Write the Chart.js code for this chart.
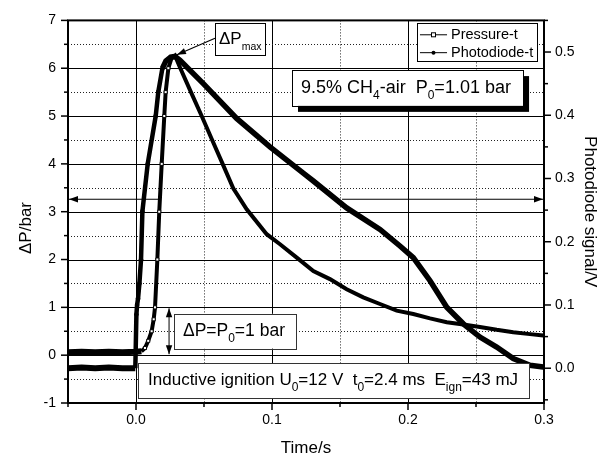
<!DOCTYPE html>
<html>
<head>
<meta charset="utf-8">
<script src="https://cdn.jsdelivr.net/npm/chart.js@4.4.1/dist/chart.umd.min.js"></script>
<style>
html,body{margin:0;padding:0;background:#fff;}
canvas{display:block;}
</style>
</head>
<body>
<canvas id="c" width="600" height="456"></canvas>
<script>
// ---- data ----
const seriesNames = ['Pressure-t', 'Photodiode-t'];
const axisTitles = { x: 'Time/s', y: '\u0394P/bar', y2: 'Photodiode signal/V' };

const pressureTime = [-0.05, -0.04, -0.03, -0.02, -0.01, 0.0, 0.004, 0.0066, 0.009, 0.0115,
  0.013, 0.014, 0.0157, 0.0171, 0.0189, 0.0208, 0.0218, 0.0238, 0.026, 0.0287,
  0.0326, 0.0404, 0.0483, 0.056, 0.0637, 0.0715, 0.0814, 0.0961, 0.1059, 0.1182,
  0.1304, 0.1426, 0.1549, 0.1671, 0.1794, 0.1917, 0.2039, 0.2162, 0.2285, 0.2407,
  0.2529, 0.2652, 0.2774, 0.2897, 0.2995];
const pressureBar = [0.06, 0.07, 0.06, 0.07, 0.06, 0.07, 0.08, 0.15, 0.3, 0.5,
  0.75, 1.0, 2.0, 3.0, 4.0, 5.0, 5.5, 6.0, 6.2, 6.26,
  6.0, 5.5, 5.0, 4.5, 4.0, 3.49, 3.05, 2.53, 2.32, 2.04,
  1.76, 1.59, 1.38, 1.21, 1.07, 0.93, 0.86, 0.77, 0.69, 0.64,
  0.59, 0.53, 0.48, 0.44, 0.41];

const photoTime = [-0.05, -0.04, -0.03, -0.02, -0.01, -0.0005, 0.0003, 0.0008, 0.0015, 0.0025,
  0.0037, 0.0047, 0.0086, 0.0145, 0.0164, 0.0194, 0.022, 0.0255, 0.0287, 0.0324,
  0.0495, 0.074, 0.0985, 0.123, 0.1304, 0.1549, 0.1794, 0.1941, 0.2039, 0.2162,
  0.2285, 0.2407, 0.2529, 0.2652, 0.2774, 0.2897, 0.2995];
const photoVolt = [0.0, 0.001, 0.0, 0.001, 0.0, 0.0, 0.085, 0.1, 0.11, 0.134,
  0.172, 0.248, 0.323, 0.399, 0.437, 0.474, 0.486, 0.492, 0.493, 0.487,
  0.45, 0.395, 0.35, 0.3085, 0.296, 0.2535, 0.2195, 0.1933, 0.1749, 0.1383,
  0.0963, 0.0702, 0.0492, 0.0335, 0.0152, 0.0047, 0.002];

// axis ranges
const timeRange = [-0.05, 0.3];
const pressureRange = [-1, 7];
const photoRange = [-0.055, 0.55];

// ---- drawing helpers ----
const FF = "'Liberation Sans', Arial, Helvetica, sans-serif";
Chart.defaults.font.family = FF;
Chart.defaults.color = '#000';

function isMult(v, step) { const r = v / step; return Math.abs(r - Math.round(r)) < 1e-6; }
function seg(ctx, x1, y1, x2, y2) { ctx.beginPath(); ctx.moveTo(x1, y1); ctx.lineTo(x2, y2); ctx.stroke(); }
function head(ctx, xf, yf, xt, yt, len, hw) {
  const a = Math.atan2(yt - yf, xt - xf);
  ctx.beginPath();
  ctx.moveTo(xt, yt);
  ctx.lineTo(xt - len * Math.cos(a) + hw * Math.sin(a), yt - len * Math.sin(a) - hw * Math.cos(a));
  ctx.lineTo(xt - len * Math.cos(a) - hw * Math.sin(a), yt - len * Math.sin(a) + hw * Math.cos(a));
  ctx.closePath();
  ctx.fill();
}
function arrow(ctx, x1, y1, x2, y2, both) {
  seg(ctx, x1, y1, x2, y2);
  head(ctx, x1, y1, x2, y2, 9, 3.2);
  if (both) head(ctx, x2, y2, x1, y1, 9, 3.2);
}
function rich(ctx, x, y, parts, size, subSize, subDy) {
  ctx.textBaseline = 'alphabetic';
  ctx.textAlign = 'left';
  for (const p of parts) {
    if (p.sub) { ctx.font = subSize + 'px ' + FF; ctx.fillText(p.s, x, y + subDy); }
    else { ctx.font = size + 'px ' + FF; ctx.fillText(p.s, x, y); }
    x += ctx.measureText(p.s).width;
  }
}
function box(ctx, l, t, r, b, stroke, shadow) {
  if (shadow) { ctx.fillStyle = '#000'; ctx.fillRect(l + shadow, t + shadow, r - l, b - t); }
  ctx.fillStyle = '#fff'; ctx.fillRect(l, t, r - l, b - t);
  ctx.strokeStyle = stroke; ctx.lineWidth = 1; ctx.setLineDash([]);
  ctx.strokeRect(Math.round(l) + 0.5, Math.round(t) + 0.5, Math.round(r - l), Math.round(b - t));
  ctx.fillStyle = '#000';
}

const deco = {
  id: 'deco',
  beforeDatasetsDraw(chart) {
    const { ctx, chartArea: a, scales } = chart;
    const x = scales.x, y = scales.y;
    ctx.save();
    ctx.lineWidth = 1;
    x.ticks.forEach(tk => {
      const v = tk.value;
      if (v <= timeRange[0] + 1e-9 || v >= timeRange[1] - 1e-9) return;
      const p = Math.round(x.getPixelForValue(v)) + 0.5;
      const major = isMult(v, 0.1);
      ctx.setLineDash(major ? [] : [1, 2]);
      ctx.strokeStyle = major ? '#000' : '#222';
      seg(ctx, p, a.top, p, a.bottom);
    });
    y.ticks.forEach(tk => {
      const v = tk.value;
      if (v <= pressureRange[0] + 1e-9 || v >= pressureRange[1] - 1e-9) return;
      const p = Math.round(y.getPixelForValue(v)) + 0.5;
      const major = isMult(v, 1);
      ctx.setLineDash(major ? [] : [1, 2]);
      ctx.strokeStyle = major ? '#000' : '#222';
      seg(ctx, a.left, p, a.right, p);
    });
    ctx.restore();
  },
  afterDatasetsDraw(chart) {
    const { ctx, chartArea: a, scales } = chart;
    const x = scales.x, y = scales.y, y2 = scales.y2;
    const X = v => x.getPixelForValue(v), Y = v => y.getPixelForValue(v);
    ctx.save();
    ctx.setLineDash([]);
    ctx.strokeStyle = '#000';
    ctx.fillStyle = '#000';
    // frame
    ctx.lineWidth = 2;
    ctx.strokeRect(a.left, a.top, a.right - a.left, a.bottom - a.top);
    // tick marks
    ctx.lineWidth = 1.5;
    y.ticks.forEach(tk => { const p = Y(tk.value); const L = isMult(tk.value, 1) ? 7 : 4; seg(ctx, a.left - L, p, a.left, p); });
    y2.ticks.forEach(tk => { const p = y2.getPixelForValue(tk.value); const L = isMult(tk.value, 0.1) ? 7 : 4; seg(ctx, a.right, p, a.right + L, p); });
    x.ticks.forEach(tk => { const p = X(tk.value); const L = isMult(tk.value, 0.1) ? 7 : 4; seg(ctx, p, a.bottom, p, a.bottom + L); });

    // arrows pointing each curve to its axis (left part and right part only)
    ctx.lineWidth = 1.2;
    arrow(ctx, X(0.0176), Y(3.26), X(-0.05) + 1, Y(3.26), false);
    arrow(ctx, X(0.1515), Y(3.26), X(0.3) - 1, Y(3.26), false);
    // vertical double arrow  dP = P0
    ctx.lineWidth = 1;
    arrow(ctx, X(0.0243), Y(0.02), X(0.0243), Y(0.98), true);

    // dP max box and arrow
    box(ctx, X(0.0581), Y(6.937), X(0.0949), Y(6.273), '#000', 0);
    rich(ctx, X(0.0581) + 4, Y(6.937) + 21, [{ s: '\u0394P' }, { s: 'max', sub: true }], 17, 10.5, 5.5);
    ctx.lineWidth = 1.2;
    arrow(ctx, X(0.0581), Y(6.626), X(0.0301), Y(6.283), false);

    // mixture box with shadow
    box(ctx, X(0.1147), Y(5.961), X(0.2846), Y(5.213), '#000', 6);
    rich(ctx, X(0.1147) + 9, Y(5.961) + 23,
      [{ s: '9.5% CH' }, { s: '4', sub: true }, { s: '-air  P' }, { s: '0', sub: true }, { s: '=1.01 bar' }], 18, 12, 6);

    // dP = P0 box
    box(ctx, X(0.0279), Y(0.865), X(0.1176), Y(0.138), '#333', 0);
    rich(ctx, X(0.0279) + 9, Y(0.865) + 22,
      [{ s: '\u0394P=P' }, { s: '0', sub: true }, { s: '=1 bar' }], 17.5, 12, 6);

    // ignition box
    box(ctx, X(0.0015), Y(-0.168), X(0.289), Y(-0.899), '#333', 0);
    rich(ctx, X(0.0015) + 10, Y(-0.168) + 22,
      [{ s: 'Inductive ignition U' }, { s: '0', sub: true }, { s: '=12 V  t' }, { s: '0', sub: true },
       { s: '=2.4 ms  E' }, { s: 'ign', sub: true }, { s: '=43 mJ' }], 17, 12, 6);

    // legend
    const ds = chart.data.datasets;
    const lx0 = X(0.2066), ly0 = Y(6.937), lx1 = X(0.2949), ly1 = Y(6.147);
    box(ctx, lx0, ly0, lx1, ly1, '#000', 0);
    const rows = [Y(6.699), Y(6.325)];
    rows.forEach((ry, i) => {
      const sx0 = X(0.2088), sx1 = X(0.2287), cx = (sx0 + sx1) / 2;
      ctx.strokeStyle = '#000'; ctx.lineWidth = 1;
      seg(ctx, sx0, ry, sx1, ry);
      if (i === 0) {
        ctx.fillStyle = '#fff'; ctx.fillRect(cx - 2, ry - 2, 4, 4);
        ctx.strokeRect(cx - 2, ry - 2, 4, 4);
      } else {
        ctx.fillStyle = '#000'; ctx.beginPath(); ctx.arc(cx, ry, 2, 0, Math.PI * 2); ctx.fill();
      }
      ctx.fillStyle = '#000';
      ctx.font = '14.5px ' + FF; ctx.textAlign = 'left'; ctx.textBaseline = 'middle';
      ctx.fillText(ds[i].label, X(0.2316), ry);
    });

    // left axis title
    ctx.save();
    ctx.translate(26, 228);
    ctx.rotate(-Math.PI / 2);
    ctx.font = '17px ' + FF; ctx.textAlign = 'center'; ctx.textBaseline = 'middle';
    ctx.fillStyle = '#000';
    ctx.fillText(axisTitles.y, 0, 0);
    ctx.restore();
    ctx.restore();
  }
};

new Chart(document.getElementById('c'), {
  type: 'scatter',
  data: {
    datasets: [
      {
        label: seriesNames[0],
        data: pressureTime.map((t, i) => ({ x: t, y: pressureBar[i] })),
        yAxisID: 'y', showLine: true, tension: 0,
        borderColor: '#000', borderWidth: 4,
        segment: { borderWidth: c => (c.p1.parsed.x <= 0.004 ? 6 : 4) },
        pointStyle: 'rect', pointBorderWidth: 1,
        pointRadius: c => (c.parsed && c.parsed.x > 0.005 && c.parsed.x < 0.026 ? 2.2 : 0),
        pointBackgroundColor: '#fff', pointBorderColor: '#000'
      },
      {
        label: seriesNames[1],
        data: photoTime.map((t, i) => ({ x: t, y: photoVolt[i] })),
        yAxisID: 'y2', showLine: true, tension: 0,
        borderColor: '#000', borderWidth: 5.5,
        segment: { borderWidth: c => (c.p1.parsed.x <= 0 ? 6 : (c.p1.parsed.x < 0.02 ? 4.5 : 5.5)) },
        pointStyle: 'circle', pointBorderWidth: 0,
        pointRadius: c => (c.parsed && c.parsed.x > 0 && c.parsed.x < 0.02 ? 2.3 : 0),
        pointBackgroundColor: '#000'
      }
    ]
  },
  options: {
    responsive: false, animation: false, devicePixelRatio: 1,
    layout: { padding: { top: 18, left: 0, right: 0, bottom: 0 } },
    plugins: { legend: { display: false }, tooltip: { enabled: false } },
    scales: {
      x: {
        type: 'linear', position: 'bottom', min: timeRange[0], max: timeRange[1],
        afterFit: s => { s.height = 53; },
        grid: { display: false, drawTicks: false }, border: { display: false },
        ticks: { stepSize: 0.05, autoSkip: false, maxRotation: 0, padding: 9, font: { size: 14 },
          callback: v => isMult(v, 0.1) ? (Math.round(v * 10) / 10).toFixed(1) : '' },
        title: { display: true, text: axisTitles.x, font: { size: 17 }, padding: { top: 0, bottom: -3 } }
      },
      y: {
        type: 'linear', position: 'left', min: pressureRange[0], max: pressureRange[1],
        afterFit: s => { s.width = 68; },
        grid: { display: false, drawTicks: false }, border: { display: false },
        ticks: { stepSize: 0.5, autoSkip: false, padding: 12, font: { size: 14 },
          callback: v => isMult(v, 1) ? String(Math.round(v)) : '' }
      },
      y2: {
        type: 'linear', position: 'right', min: photoRange[0], max: photoRange[1],
        afterFit: s => { s.width = 56; },
        grid: { display: false, drawTicks: false }, border: { display: false },
        ticks: { stepSize: 0.05, autoSkip: false, includeBounds: false, padding: 11, font: { size: 14 },
          callback: v => (isMult(v, 0.1) && v > -0.01) ? (Math.round(v * 10) / 10).toFixed(1) : '' },
        title: { display: true, text: axisTitles.y2, font: { size: 17 }, padding: { top: 0, bottom: 0 } }
      }
    }
  },
  plugins: [deco]
});
</script>
</body>
</html>
